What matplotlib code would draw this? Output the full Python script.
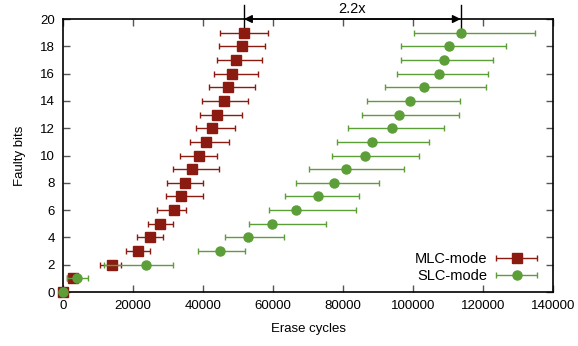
import matplotlib
matplotlib.use("Agg")
import matplotlib.pyplot as plt
from matplotlib.legend_handler import HandlerErrorbar

# Faulty bits (y) vs erase cycles (x) for the two modes
faulty_bits = list(range(20))

mlc_cycles = [0, 2800, 14000, 21300, 24900, 27700, 31600, 33800, 34900, 36900,
              38800, 40900, 42700, 44000, 46000, 47100, 48200, 49400, 51000, 51700]
mlc_low = [0, 1000, 10500, 17900, 21200, 24400, 26800, 29500, 29800, 31500,
           33500, 36400, 38100, 39000, 39600, 41600, 43000, 44100, 44600, 44900]
mlc_high = [0, 3400, 16600, 24900, 28700, 31400, 35200, 40000, 40000, 44700,
            43900, 47400, 49200, 51200, 52700, 54900, 55600, 56900, 57800, 58600]

slc_cycles = [0, 3900, 23800, 44900, 52900, 59700, 66500, 72900, 77400, 80800,
              86300, 88300, 94100, 96100, 99200, 103200, 107500, 108700, 110200, 113600]
slc_low = [0, 1000, 11600, 38600, 46400, 53000, 58700, 63300, 66500, 70400,
           76800, 78200, 81400, 85500, 86900, 92000, 95500, 96500, 96500, 100300]
slc_high = [0, 7200, 31400, 52100, 63100, 75200, 83800, 84600, 90400, 97400,
            101700, 104500, 108800, 113100, 113500, 120900, 121400, 122700, 126400, 134800]

mlc_color = "#8b1a10"
slc_color = "#5c9e38"

plt.rcParams['font.family'] = ['Liberation Sans', 'DejaVu Sans']
plt.rcParams['font.size'] = 9.5

fig = plt.figure(figsize=(5.78, 3.46), dpi=100)
ax = fig.add_axes([0.109, 0.156, 0.848, 0.789])

mlc_err = [[c - lo for c, lo in zip(mlc_cycles, mlc_low)],
           [hi - c for c, hi in zip(mlc_cycles, mlc_high)]]
slc_err = [[c - lo for c, lo in zip(slc_cycles, slc_low)],
           [hi - c for c, hi in zip(slc_cycles, slc_high)]]

ax.errorbar(mlc_cycles, faulty_bits, xerr=mlc_err, fmt='s', color=mlc_color,
            ecolor=mlc_color, elinewidth=1, capsize=2.5, markersize=6.5,
            label="MLC-mode", clip_on=False, zorder=3)
ax.errorbar(slc_cycles, faulty_bits, xerr=slc_err, fmt='o', color=slc_color,
            ecolor=slc_color, elinewidth=1, capsize=2.5, markersize=6.5,
            label="SLC-mode", clip_on=False, zorder=4)

ax.set_xlim(0, 140000)
ax.set_ylim(0, 20)
ax.set_xticks(range(0, 140001, 20000))
ax.set_yticks(range(0, 21, 2))
ax.tick_params(direction='in', top=True, right=True, length=5, width=1,
               color='#555555', pad=6)
for s in ax.spines.values():
    s.set_linewidth(1.2)
ax.set_xlabel("Erase cycles", labelpad=8)
ax.set_ylabel("Faulty bits", labelpad=10)

# 2.2x annotation between the last points of each mode
x_a, x_b = mlc_cycles[-1], slc_cycles[-1]
ax.annotate("", xy=(x_a, 20), xytext=(x_b, 20),
            arrowprops=dict(arrowstyle='<|-|>', color='black', lw=1,
                            mutation_scale=12, shrinkA=0, shrinkB=0),
            annotation_clip=False)
ax.plot([x_a, x_a], [faulty_bits[-1], 21.05], color='black', lw=1, clip_on=False)
ax.plot([x_b, x_b], [faulty_bits[-1], 21.05], color='black', lw=1, clip_on=False)
ax.text((x_a + x_b) / 2, 20.25, "2.2x", ha='center', va='bottom', fontsize=10.5)

leg = ax.legend(loc='lower right', frameon=False, markerfirst=False,
                fontsize=10.5, handlelength=2.8, handletextpad=0.6,
                borderaxespad=0.2, labelspacing=0.25,
                bbox_to_anchor=(0.985, 0.0),
                handler_map={type(ax.containers[0]): HandlerErrorbar(xerr_size=1.4)})

fig.savefig("out.png", dpi=100)
